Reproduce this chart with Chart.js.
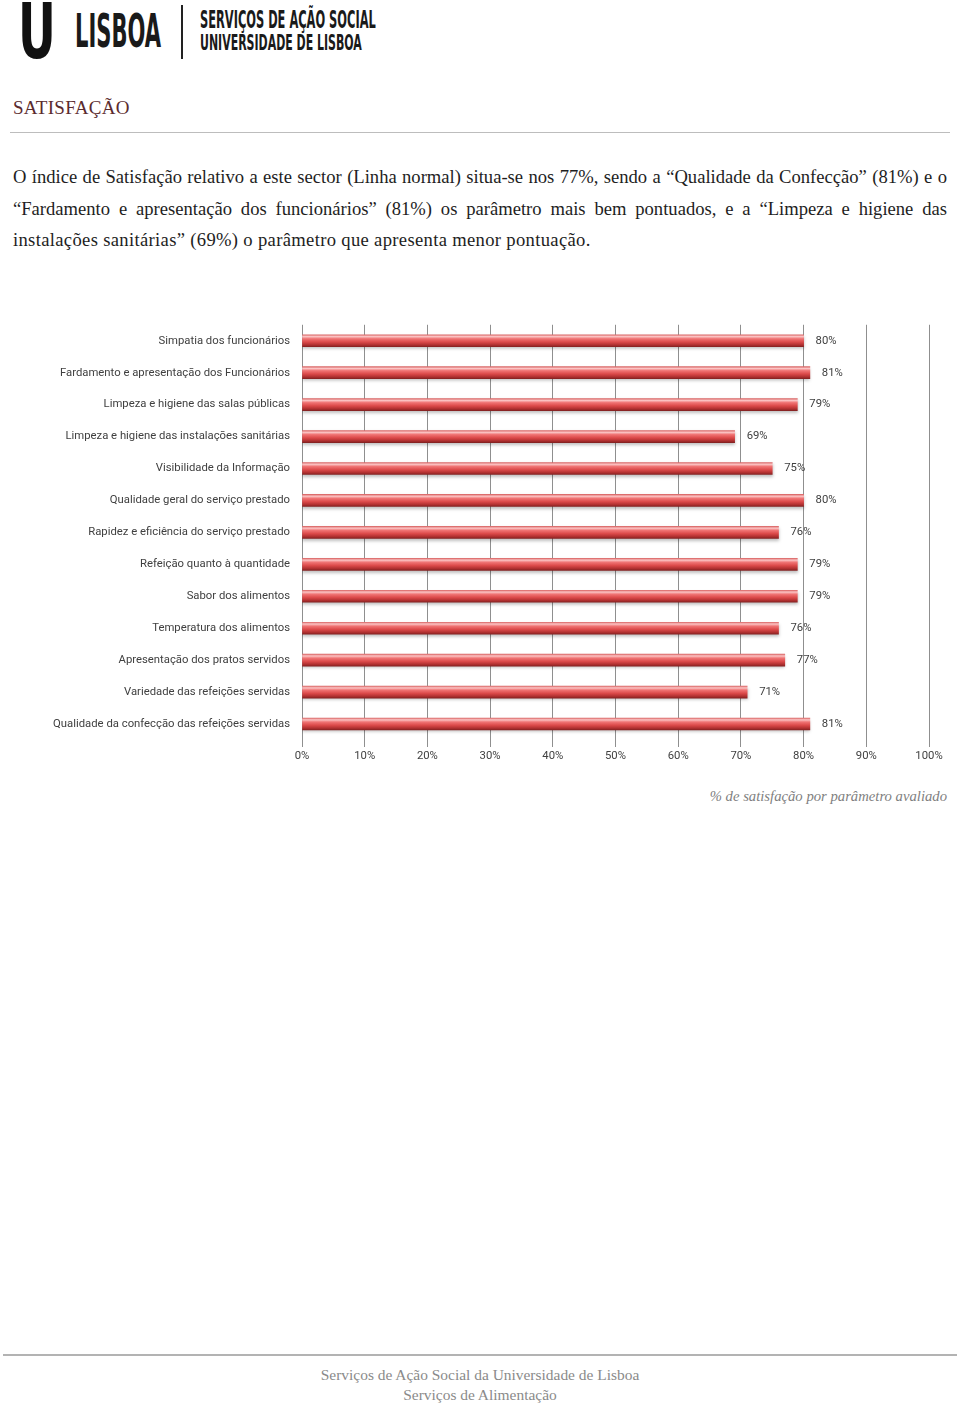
<!DOCTYPE html>
<html>
<head>
<meta charset="utf-8">
<script src="https://cdn.jsdelivr.net/npm/chart.js@4.4.1/dist/chart.umd.min.js"></script>
<style>
  body { margin: 0; background: #fff; }
  #page { position: relative; width: 960px; height: 1406px; overflow: hidden; }
  .abs { position: absolute; white-space: nowrap; }
  .fit { display: inline-block; transform-origin: 0 50%; }
  .cond { font-family: "DejaVu Sans Condensed", "DejaVu Sans", sans-serif; color: #1a1a1a; }
  #title { left: 13px; top: 97px; font-family: "Liberation Serif", serif; font-size: 19px; color: #5b2b2e; letter-spacing: 0.3px; }
  #rule { left: 10px; top: 132px; width: 940px; height: 1px; background: #bdbdbd; }
  #intro { position: absolute; left: 13px; top: 161px; width: 934px; font-family: "Liberation Serif", serif; font-size: 18.6px; line-height: 31.5px; color: #1e1e1e; }
  #intro div { text-align: justify; text-align-last: justify; white-space: nowrap; }
  #intro div.last { text-align-last: left; letter-spacing: 0.33px; }
  #chartbox { position: absolute; left: 0; top: 306px; }
  #caption { right: 13px; top: 788px; font-family: "Liberation Serif", serif; font-style: italic; font-size: 14.7px; color: #7f7f7f; }
  #foot { left: 3px; top: 1354px; width: 954px; height: 2px; background: #b3b3b3; }
  .ft { left: 0; width: 960px; text-align: center; font-family: "Liberation Serif", serif; font-size: 15.45px; color: #8a8a8a; }
</style>
</head>
<body>
<div id="page">
  <!-- header logo -->
  <div class="abs" style="left:18px; top:-6px; font-family:'DejaVu Sans', sans-serif; font-weight:bold; font-size:76px; line-height:76px; color:#111;"><span class="fit" data-w="38">U</span></div>
  <div class="abs cond" style="left:75px; top:8px; font-size:46px; line-height:46px; font-weight:bold;"><span class="fit" data-w="86">LISBOA</span></div>
  <div class="abs" style="left:181px; top:5px; width:2px; height:54px; background:#222;"></div>
  <div class="abs cond" style="left:200px; top:8px; font-size:24px; line-height:24px; font-weight:bold;"><span class="fit" data-w="176">SERVIÇOS DE AÇÃO SOCIAL</span></div>
  <div class="abs cond" style="left:200px; top:33px; font-size:21px; line-height:21px; font-weight:bold;"><span class="fit" data-w="162">UNIVERSIDADE DE LISBOA</span></div>

  <div id="title" class="abs">SATISFAÇÃO</div>
  <div id="rule" class="abs"></div>

  <div id="intro">
    <div>O índice de Satisfação relativo a este sector (Linha normal) situa-se nos 77%, sendo a “Qualidade da Confecção” (81%) e o</div>
    <div>“Fardamento e apresentação dos funcionários” (81%) os parâmetro mais bem pontuados, e a “Limpeza e higiene das</div>
    <div class="last">instalações sanitárias” (69%) o parâmetro que apresenta menor pontuação.</div>
  </div>

  <div id="chartbox"><canvas id="satChart" width="960" height="464"></canvas></div>

  <div id="caption" class="abs">% de satisfação por parâmetro avaliado</div>

  <div id="foot" class="abs"></div>
  <div class="abs ft" style="top:1366px;">Serviços de Ação Social da Universidade de Lisboa</div>
  <div class="abs ft" style="top:1386px;">Serviços de Alimentação</div>
</div>

<script>
// squeeze the logo words to the widths seen in the picture
var fits = document.querySelectorAll('.fit');
for (var i = 0; i < fits.length; i++) {
    var w = parseFloat(fits[i].getAttribute('data-w'));
    fits[i].style.transform = 'scaleX(' + (w / fits[i].offsetWidth) + ')';
}

var categories = [
    'Simpatia dos funcionários',
    'Fardamento e apresentação dos Funcionários',
    'Limpeza e higiene das salas públicas',
    'Limpeza e higiene das instalações sanitárias',
    'Visibilidade da Informação',
    'Qualidade geral do serviço prestado',
    'Rapidez e eficiência do serviço prestado',
    'Refeição quanto à quantidade',
    'Sabor dos alimentos',
    'Temperatura dos alimentos',
    'Apresentação dos pratos servidos',
    'Variedade das refeições servidas',
    'Qualidade da confecção das refeições servidas'
];
var satisfaction = [80, 81, 79, 69, 75, 80, 76, 79, 79, 76, 77, 71, 81];
var xTicks = [0, 10, 20, 30, 40, 50, 60, 70, 80, 90, 100];

var labelFont = { family: 'Roboto, "Liberation Sans", sans-serif', size: 11.3 };
var textColor = '#404040';

// cylinder look: vertical gradient across each bar
function barFill(ctx) {
    var chart = ctx.chart;
    var yScale = chart.scales.y;
    if (!yScale || ctx.dataIndex === undefined) return '#d94a4a';
    var yc = yScale.getPixelForValue(ctx.dataIndex);
    if (!isFinite(yc)) return '#d94a4a';
    var g = chart.ctx.createLinearGradient(0, yc - 6, 0, yc + 6);
    g.addColorStop(0, '#dc6a6a');
    g.addColorStop(0.15, '#fbc4c4');
    g.addColorStop(0.33, '#f07474');
    g.addColorStop(0.6, '#dc4a4a');
    g.addColorStop(0.85, '#b03030');
    g.addColorStop(1, '#862222');
    return g;
}

var barShadow = {
    id: 'barShadow',
    beforeDatasetDraw: function (chart) {
        var c = chart.ctx;
        c.save();
        c.shadowColor = 'rgba(0,0,0,0.25)';
        c.shadowBlur = 3;
        c.shadowOffsetY = 2;
    },
    afterDatasetDraw: function (chart) {
        chart.ctx.restore();
    }
};

var valueLabels = {
    id: 'valueLabels',
    afterDatasetsDraw: function (chart) {
        var c = chart.ctx;
        var meta = chart.getDatasetMeta(0);
        c.save();
        c.font = labelFont.size + 'px ' + labelFont.family;
        c.fillStyle = textColor;
        c.textAlign = 'left';
        c.textBaseline = 'middle';
        meta.data.forEach(function (bar, i) {
            c.fillText(satisfaction[i] + '%', bar.x + 12, bar.y);
        });
        c.restore();
    }
};

new Chart(document.getElementById('satChart'), {
    type: 'bar',
    data: {
        labels: categories,
        datasets: [{
            data: satisfaction,
            backgroundColor: barFill,
            borderWidth: 0,
            barThickness: 12
        }]
    },
    options: {
        indexAxis: 'y',
        responsive: false,
        animation: false,
        layout: { padding: { top: 10, right: 31, left: 0, bottom: 0 } },
        plugins: {
            legend: { display: false },
            tooltip: { enabled: false }
        },
        scales: {
            x: {
                min: 0,
                max: 100,
                afterBuildTicks: function (scale) {
                    scale.ticks = xTicks.map(function (v) { return { value: v }; });
                },
                afterFit: function (scale) { scale.height = 30; },
                grid: { color: '#8f8f8f', lineWidth: 1, tickLength: 7, drawTicks: true },
                border: { display: false },
                ticks: {
                    font: labelFont,
                    color: textColor,
                    padding: 2,
                    maxRotation: 0,
                    callback: function (v) { return v + '%'; }
                }
            },
            y: {
                afterFit: function (scale) { scale.width = 302; },
                grid: { display: false, drawTicks: false },
                border: { display: false },
                ticks: { font: labelFont, color: textColor, padding: 12 }
            }
        }
    },
    plugins: [barShadow, valueLabels]
});
</script>
</body>
</html>
